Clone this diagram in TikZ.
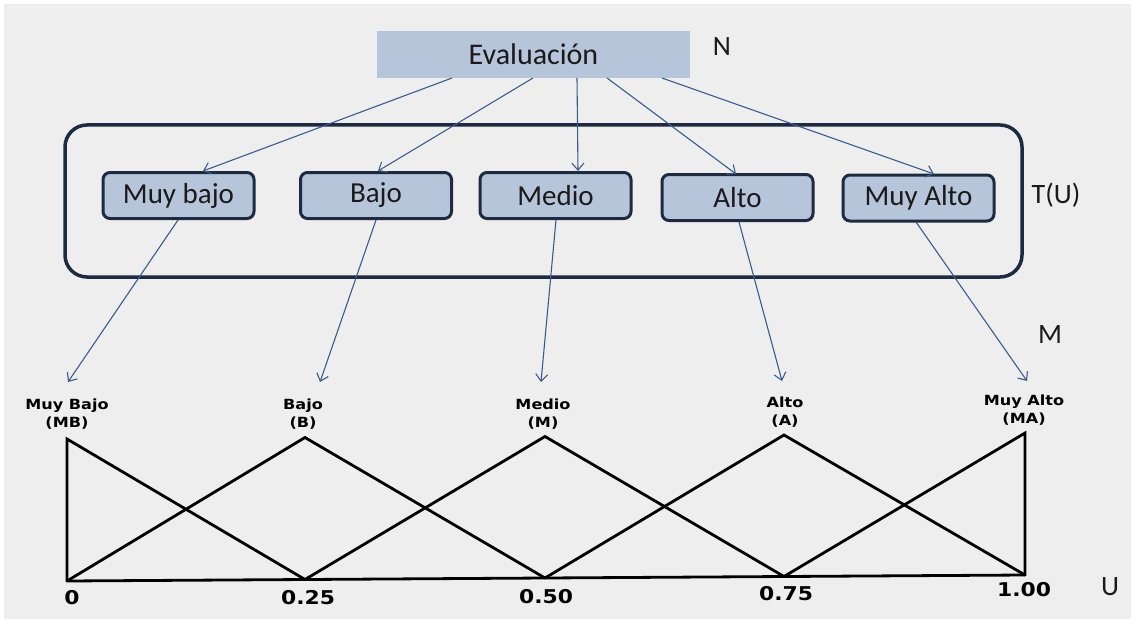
\documentclass[tikz,border=0pt]{standalone}
\usepackage{fontspec}
\setmainfont{Carlito}
\newfontfamily\labelfont[FakeStretch=1.15]{DejaVu Sans}
\usetikzlibrary{arrows.meta}
\definecolor{bg}{HTML}{EEEEEE}
\definecolor{boxfill}{HTML}{B6C5DA}
\definecolor{frame}{HTML}{1E2A40}
\definecolor{linkblue}{HTML}{3A5C8C}
\definecolor{ink}{HTML}{1A1A1A}
\begin{document}
\begin{tikzpicture}[x=1pt,y=-1pt,
  termbox/.style={draw=frame, line width=3pt, fill=boxfill, rounded corners=7pt,
    minimum width=151pt, minimum height=46pt, inner sep=0pt, text=ink,
    font=\fontsize{29}{32}\selectfont},
  link/.style={draw=linkblue, line width=1.1pt, -{Straight Barb[length=7pt,width=12pt]}},
  mf/.style={line width=2.8pt, line join=miter, line cap=round},
  setlabel/.style={font=\labelfont\bfseries\fontsize{14}{17.5}\selectfont, align=center, inner sep=0pt},
  tick/.style={font=\labelfont\bfseries\fontsize{19}{22}\selectfont, inner sep=0pt},
  side/.style={font=\fontsize{28}{30}\selectfont, text=ink, inner sep=0pt}]

% canvas
\useasboundingbox (0,0) rectangle (1135,623);
\fill[white] (0,0) rectangle (1135,623);
\fill[bg] (4,4) rectangle (1131,619);

% root variable
\node[fill=boxfill, minimum width=313pt, minimum height=47pt, inner sep=0pt, text=ink,
  font=\fontsize{30}{33}\selectfont] (eval) at (533.5,54.5) {Evaluación};
\node[side] (nlab) at (722,47) {N};

% term set frame
\draw[draw=frame, line width=3.5pt, rounded corners=22pt] (65,125) rectangle (1022,277);
\node[side] (tlab) at (1056,195) {T(U)};

% linguistic terms
\node[termbox] (mb) at (178.5,195.5) {Muy bajo};
\node[termbox] (b)  at (376,195.5)   {Bajo};
\node[termbox] (m)  at (555.5,195.5) {Medio};
\node[termbox] (a)  at (737.5,197.5) {Alto};
\node[termbox] (ma) at (918.5,198)   {Muy Alto};

% arrows from the root to each term
\coordinate (r1) at (452,78);
\coordinate (r2) at (533,78);
\coordinate (r3) at (577,78);
\coordinate (r4) at (607,78);
\coordinate (r5) at (662,78);
\coordinate (t1) at (203,171);
\coordinate (t2) at (378,171);
\coordinate (t3) at (578,171);
\coordinate (t4) at (736,174);
\coordinate (t5) at (934,174);
\foreach \i in {1,...,5} \draw[link] (r\i) -- (t\i);

% membership functions
\coordinate (p0) at (67,581);
\coordinate (p1) at (305,579.5);
\coordinate (p2) at (545,578);
\coordinate (p3) at (784,576.5);
\coordinate (p4) at (1025,575);
\coordinate (q0) at (67,439);
\coordinate (q1) at (305,437.5);
\coordinate (q2) at (545,436.5);
\coordinate (q3) at (784,435);
\coordinate (q4) at (1025,433);

\draw[mf] (p0) -- (p4);
\draw[mf] (p0) -- (q0) -- (p1);
\draw[mf] (p0) -- (q1) -- (p2);
\draw[mf] (p1) -- (q2) -- (p3);
\draw[mf] (p2) -- (q3) -- (p4);
\draw[mf] (p3) -- (q4) -- (p4);

% term labels above the peaks
\node[setlabel] (lmb) at (67,414)   {Muy Bajo\\(MB)};
\node[setlabel] (lb)  at (303,414)  {Bajo\\(B)};
\node[setlabel] (lm)  at (543,414)  {Medio\\(M)};
\node[setlabel] (la)  at (785,412)  {Alto\\(A)};
\node[setlabel] (lma) at (1024,410) {Muy Alto\\(MA)};
\node[side] (mlab) at (1050,335) {M};

% arrows from each term to its function
\coordinate (d1) at (178,220);
\coordinate (d2) at (376,220);
\coordinate (d3) at (556,220);
\coordinate (d4) at (739,222);
\coordinate (d5) at (916,222);
\coordinate (f1) at (68,382);
\coordinate (f2) at (320,382);
\coordinate (f3) at (541,382);
\coordinate (f4) at (782,381);
\coordinate (f5) at (1027,381);
\foreach \i in {1,...,5} \draw[link] (d\i) -- (f\i);

% universe values
\node[tick] (v0)   at (72,598)   {0};
\node[tick] (v25)  at (308,598)  {0.25};
\node[tick] (v50)  at (546,597)  {0.50};
\node[tick] (v75)  at (786,594)  {0.75};
\node[tick] (v100) at (1024,590) {1.00};
\node[side] (ulab) at (1110,587) {U};
\end{tikzpicture}
\end{document}
